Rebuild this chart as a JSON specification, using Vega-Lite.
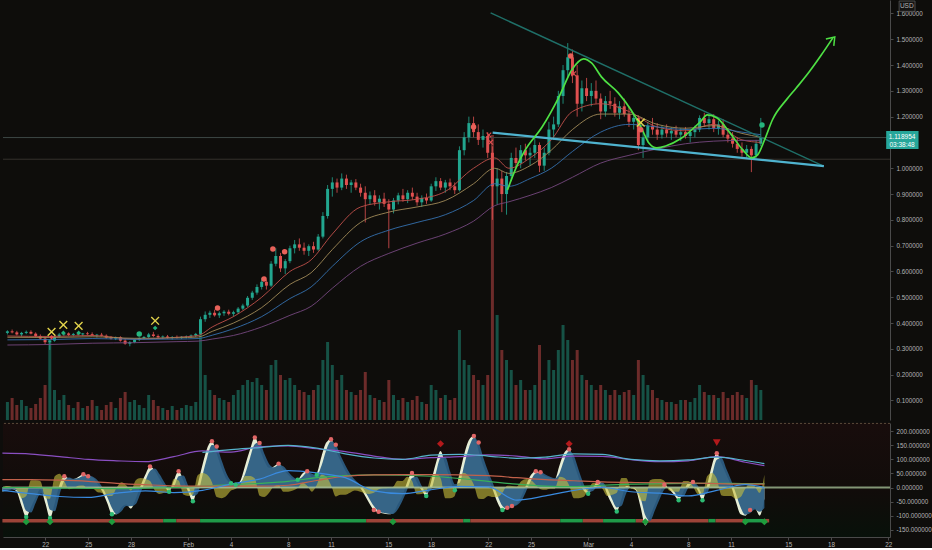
{
"$schema":"https://vega.github.io/schema/vega-lite/v6.json",
"background":"#0e0d0b",
"padding":0,
"spacing":2,
"config":{"view":{"stroke":null},"font":"Liberation Sans","axis":{"grid":false,"domainColor":"#4a4a4a","tickColor":"#4a4a4a","labelColor":"#b4b4b4","labelFont":"Liberation Sans","labelFontSize":6.3,"tickSize":3,"labelPadding":3,"labelOverlap":false}},
"datasets":{
"k":[
{"t":"2021-01-19T00:00Z","o":0.362,"h":0.372,"l":0.356,"c":0.368,"v":18,"w1":-15,"w2":-15,"mf":0},
{"t":"2021-01-19T08:00Z","o":0.368,"h":0.375,"l":0.36,"c":0.364,"v":22,"w1":-8,"w2":-12,"mf":5},
{"t":"2021-01-19T16:00Z","o":0.364,"h":0.37,"l":0.352,"c":0.356,"v":15,"w1":-5,"w2":-7,"mf":2},
{"t":"2021-01-20T00:00Z","o":0.356,"h":0.366,"l":0.348,"c":0.362,"v":20,"w1":-15,"w2":-10,"mf":-8},
{"t":"2021-01-20T08:00Z","o":0.362,"h":0.371,"l":0.357,"c":0.366,"v":14,"w1":-65,"w2":-38,"mf":-38},
{"t":"2021-01-20T16:00Z","o":0.366,"h":0.372,"l":0.356,"c":0.359,"v":12,"w1":-105,"w2":-83,"mf":-30},
{"t":"2021-01-21T00:00Z","o":0.359,"h":0.364,"l":0.345,"c":0.35,"v":16,"w1":-70,"w2":-89,"mf":26},
{"t":"2021-01-21T08:00Z","o":0.35,"h":0.356,"l":0.336,"c":0.34,"v":22,"w1":-35,"w2":-54,"mf":26},
{"t":"2021-01-21T16:00Z","o":0.34,"h":0.346,"l":0.318,"c":0.326,"v":35,"w1":-6,"w2":-22,"mf":22},
{"t":"2021-01-22T00:00Z","o":0.326,"h":0.338,"l":0.296,"c":0.332,"v":80,"w1":-55,"w2":-28,"mf":-37},
{"t":"2021-01-22T08:00Z","o":0.332,"h":0.352,"l":0.328,"c":0.348,"v":30,"w1":-108,"w2":-79,"mf":-40},
{"t":"2021-01-22T16:00Z","o":0.348,"h":0.362,"l":0.344,"c":0.356,"v":20,"w1":-55,"w2":-84,"mf":40},
{"t":"2021-01-23T00:00Z","o":0.356,"h":0.366,"l":0.35,"c":0.36,"v":25,"w1":10,"w2":-26,"mf":49},
{"t":"2021-01-23T08:00Z","o":0.36,"h":0.364,"l":0.35,"c":0.354,"v":15,"w1":40,"w2":24,"mf":22},
{"t":"2021-01-23T16:00Z","o":0.354,"h":0.362,"l":0.349,"c":0.358,"v":12,"w1":32,"w2":36,"mf":-6},
{"t":"2021-01-24T00:00Z","o":0.358,"h":0.365,"l":0.352,"c":0.356,"v":18,"w1":30,"w2":31,"mf":-2},
{"t":"2021-01-24T08:00Z","o":0.356,"h":0.362,"l":0.35,"c":0.36,"v":12,"w1":38,"w2":34,"mf":6},
{"t":"2021-01-24T16:00Z","o":0.36,"h":0.366,"l":0.354,"c":0.357,"v":14,"w1":47,"w2":42,"mf":7},
{"t":"2021-01-25T00:00Z","o":0.357,"h":0.364,"l":0.35,"c":0.352,"v":20,"w1":40,"w2":44,"mf":-5},
{"t":"2021-01-25T08:00Z","o":0.352,"h":0.358,"l":0.344,"c":0.355,"v":14,"w1":35,"w2":38,"mf":-4},
{"t":"2021-01-25T16:00Z","o":0.355,"h":0.362,"l":0.349,"c":0.351,"v":10,"w1":12,"w2":25,"mf":-17},
{"t":"2021-01-26T00:00Z","o":0.351,"h":0.356,"l":0.34,"c":0.344,"v":15,"w1":-15,"w2":0,"mf":-20},
{"t":"2021-01-26T08:00Z","o":0.344,"h":0.35,"l":0.336,"c":0.34,"v":18,"w1":-55,"w2":-33,"mf":-30},
{"t":"2021-01-26T16:00Z","o":0.34,"h":0.348,"l":0.334,"c":0.345,"v":12,"w1":-95,"w2":-73,"mf":-30},
{"t":"2021-01-27T00:00Z","o":0.345,"h":0.349,"l":0.328,"c":0.332,"v":22,"w1":-95,"w2":-95,"mf":0},
{"t":"2021-01-27T08:00Z","o":0.332,"h":0.338,"l":0.316,"c":0.32,"v":28,"w1":-70,"w2":-84,"mf":19},
{"t":"2021-01-27T16:00Z","o":0.32,"h":0.33,"l":0.31,"c":0.326,"v":18,"w1":-60,"w2":-66,"mf":8},
{"t":"2021-01-28T00:00Z","o":0.326,"h":0.34,"l":0.322,"c":0.336,"v":20,"w1":-75,"w2":-67,"mf":-11},
{"t":"2021-01-28T08:00Z","o":0.336,"h":0.345,"l":0.33,"c":0.342,"v":15,"w1":-40,"w2":-59,"mf":26},
{"t":"2021-01-28T16:00Z","o":0.342,"h":0.35,"l":0.337,"c":0.346,"v":12,"w1":5,"w2":-20,"mf":34},
{"t":"2021-01-29T00:00Z","o":0.346,"h":0.362,"l":0.342,"c":0.356,"v":25,"w1":45,"w2":23,"mf":30},
{"t":"2021-01-29T08:00Z","o":0.356,"h":0.366,"l":0.345,"c":0.35,"v":20,"w1":75,"w2":59,"mf":23},
{"t":"2021-01-29T16:00Z","o":0.35,"h":0.356,"l":0.34,"c":0.345,"v":14,"w1":60,"w2":68,"mf":-11},
{"t":"2021-01-30T00:00Z","o":0.345,"h":0.352,"l":0.338,"c":0.348,"v":12,"w1":30,"w2":47,"mf":-23},
{"t":"2021-01-30T08:00Z","o":0.348,"h":0.354,"l":0.34,"c":0.343,"v":10,"w1":5,"w2":19,"mf":-19},
{"t":"2021-01-30T16:00Z","o":0.343,"h":0.35,"l":0.336,"c":0.346,"v":14,"w1":-15,"w2":-4,"mf":-15},
{"t":"2021-01-31T00:00Z","o":0.346,"h":0.352,"l":0.34,"c":0.344,"v":10,"w1":25,"w2":3,"mf":30},
{"t":"2021-01-31T08:00Z","o":0.344,"h":0.35,"l":0.338,"c":0.347,"v":12,"w1":58,"w2":40,"mf":25},
{"t":"2021-01-31T16:00Z","o":0.347,"h":0.352,"l":0.341,"c":0.349,"v":15,"w1":25,"w2":43,"mf":-25},
{"t":"2021-02-01T00:00Z","o":0.349,"h":0.356,"l":0.343,"c":0.352,"v":14,"w1":-15,"w2":7,"mf":-30},
{"t":"2021-02-01T08:00Z","o":0.352,"h":0.362,"l":0.346,"c":0.358,"v":18,"w1":-49,"w2":-30,"mf":-26},
{"t":"2021-02-01T16:00Z","o":0.358,"h":0.425,"l":0.355,"c":0.415,"v":88,"w1":10,"w2":-22,"mf":44},
{"t":"2021-02-02T00:00Z","o":0.415,"h":0.445,"l":0.405,"c":0.432,"v":45,"w1":80,"w2":42,"mf":52},
{"t":"2021-02-02T08:00Z","o":0.432,"h":0.448,"l":0.42,"c":0.44,"v":30,"w1":140,"w2":107,"mf":45},
{"t":"2021-02-02T16:00Z","o":0.44,"h":0.452,"l":0.425,"c":0.43,"v":25,"w1":165,"w2":151,"mf":19},
{"t":"2021-02-03T00:00Z","o":0.43,"h":0.445,"l":0.42,"c":0.438,"v":22,"w1":120,"w2":145,"mf":-34},
{"t":"2021-02-03T08:00Z","o":0.438,"h":0.45,"l":0.428,"c":0.444,"v":20,"w1":70,"w2":98,"mf":-38},
{"t":"2021-02-03T16:00Z","o":0.444,"h":0.452,"l":0.43,"c":0.436,"v":18,"w1":30,"w2":52,"mf":-30},
{"t":"2021-02-04T00:00Z","o":0.436,"h":0.448,"l":0.425,"c":0.442,"v":25,"w1":15,"w2":23,"mf":-11},
{"t":"2021-02-04T08:00Z","o":0.442,"h":0.462,"l":0.435,"c":0.456,"v":30,"w1":10,"w2":13,"mf":-4},
{"t":"2021-02-04T16:00Z","o":0.456,"h":0.475,"l":0.45,"c":0.468,"v":35,"w1":25,"w2":17,"mf":11},
{"t":"2021-02-05T00:00Z","o":0.468,"h":0.505,"l":0.462,"c":0.498,"v":40,"w1":80,"w2":50,"mf":41},
{"t":"2021-02-05T08:00Z","o":0.498,"h":0.525,"l":0.49,"c":0.518,"v":38,"w1":135,"w2":105,"mf":41},
{"t":"2021-02-05T16:00Z","o":0.518,"h":0.55,"l":0.51,"c":0.54,"v":42,"w1":178,"w2":154,"mf":32},
{"t":"2021-02-06T00:00Z","o":0.54,"h":0.575,"l":0.53,"c":0.56,"v":35,"w1":140,"w2":161,"mf":-29},
{"t":"2021-02-06T08:00Z","o":0.56,"h":0.568,"l":0.53,"c":0.545,"v":30,"w1":95,"w2":120,"mf":-34},
{"t":"2021-02-06T16:00Z","o":0.545,"h":0.64,"l":0.54,"c":0.63,"v":55,"w1":70,"w2":84,"mf":-19},
{"t":"2021-02-07T00:00Z","o":0.63,"h":0.69,"l":0.62,"c":0.66,"v":60,"w1":75,"w2":72,"mf":4},
{"t":"2021-02-07T08:00Z","o":0.66,"h":0.672,"l":0.598,"c":0.612,"v":45,"w1":85,"w2":80,"mf":8},
{"t":"2021-02-07T16:00Z","o":0.612,"h":0.648,"l":0.59,"c":0.64,"v":40,"w1":65,"w2":76,"mf":-15},
{"t":"2021-02-08T00:00Z","o":0.64,"h":0.7,"l":0.632,"c":0.69,"v":42,"w1":45,"w2":56,"mf":-15},
{"t":"2021-02-08T08:00Z","o":0.69,"h":0.722,"l":0.67,"c":0.705,"v":35,"w1":30,"w2":38,"mf":-11},
{"t":"2021-02-08T16:00Z","o":0.705,"h":0.728,"l":0.68,"c":0.692,"v":30,"w1":28,"w2":29,"mf":-2},
{"t":"2021-02-09T00:00Z","o":0.692,"h":0.712,"l":0.665,"c":0.68,"v":28,"w1":50,"w2":38,"mf":17},
{"t":"2021-02-09T08:00Z","o":0.68,"h":0.705,"l":0.66,"c":0.698,"v":25,"w1":58,"w2":54,"mf":6},
{"t":"2021-02-09T16:00Z","o":0.698,"h":0.715,"l":0.672,"c":0.685,"v":30,"w1":38,"w2":49,"mf":-15},
{"t":"2021-02-10T00:00Z","o":0.685,"h":0.745,"l":0.68,"c":0.735,"v":35,"w1":50,"w2":43,"mf":9},
{"t":"2021-02-10T08:00Z","o":0.735,"h":0.83,"l":0.728,"c":0.815,"v":60,"w1":110,"w2":77,"mf":45},
{"t":"2021-02-10T16:00Z","o":0.815,"h":0.935,"l":0.805,"c":0.92,"v":78,"w1":160,"w2":133,"mf":38},
{"t":"2021-02-11T00:00Z","o":0.92,"h":0.965,"l":0.89,"c":0.945,"v":55,"w1":172,"w2":165,"mf":9},
{"t":"2021-02-11T08:00Z","o":0.945,"h":0.96,"l":0.905,"c":0.925,"v":40,"w1":130,"w2":153,"mf":-32},
{"t":"2021-02-11T16:00Z","o":0.925,"h":0.98,"l":0.915,"c":0.96,"v":45,"w1":95,"w2":114,"mf":-26},
{"t":"2021-02-12T00:00Z","o":0.96,"h":0.975,"l":0.92,"c":0.935,"v":30,"w1":60,"w2":79,"mf":-26},
{"t":"2021-02-12T08:00Z","o":0.935,"h":0.955,"l":0.905,"c":0.945,"v":28,"w1":35,"w2":49,"mf":-19},
{"t":"2021-02-12T16:00Z","o":0.945,"h":0.958,"l":0.915,"c":0.925,"v":25,"w1":20,"w2":28,"mf":-11},
{"t":"2021-02-13T00:00Z","o":0.925,"h":0.94,"l":0.89,"c":0.905,"v":30,"w1":2,"w2":12,"mf":-14},
{"t":"2021-02-13T08:00Z","o":0.905,"h":0.93,"l":0.79,"c":0.88,"v":48,"w1":-25,"w2":-10,"mf":-20},
{"t":"2021-02-13T16:00Z","o":0.88,"h":0.91,"l":0.86,"c":0.895,"v":25,"w1":-55,"w2":-39,"mf":-23},
{"t":"2021-02-14T00:00Z","o":0.895,"h":0.915,"l":0.855,"c":0.868,"v":22,"w1":-80,"w2":-66,"mf":-19},
{"t":"2021-02-14T08:00Z","o":0.868,"h":0.895,"l":0.84,"c":0.882,"v":20,"w1":-88,"w2":-84,"mf":-6},
{"t":"2021-02-14T16:00Z","o":0.882,"h":0.905,"l":0.85,"c":0.862,"v":18,"w1":-92,"w2":-90,"mf":-3},
{"t":"2021-02-15T00:00Z","o":0.862,"h":0.88,"l":0.69,"c":0.84,"v":40,"w1":-95,"w2":-93,"mf":-2},
{"t":"2021-02-15T08:00Z","o":0.84,"h":0.885,"l":0.825,"c":0.875,"v":25,"w1":-92,"w2":-94,"mf":2},
{"t":"2021-02-15T16:00Z","o":0.875,"h":0.905,"l":0.86,"c":0.895,"v":20,"w1":-60,"w2":-78,"mf":24},
{"t":"2021-02-16T00:00Z","o":0.895,"h":0.92,"l":0.87,"c":0.88,"v":22,"w1":-30,"w2":-47,"mf":23},
{"t":"2021-02-16T08:00Z","o":0.88,"h":0.915,"l":0.865,"c":0.905,"v":18,"w1":20,"w2":-8,"mf":38},
{"t":"2021-02-16T16:00Z","o":0.905,"h":0.925,"l":0.878,"c":0.89,"v":20,"w1":52,"w2":34,"mf":24},
{"t":"2021-02-17T00:00Z","o":0.89,"h":0.905,"l":0.855,"c":0.868,"v":24,"w1":20,"w2":38,"mf":-24},
{"t":"2021-02-17T08:00Z","o":0.868,"h":0.895,"l":0.85,"c":0.885,"v":18,"w1":-10,"w2":7,"mf":-23},
{"t":"2021-02-17T16:00Z","o":0.885,"h":0.902,"l":0.862,"c":0.875,"v":16,"w1":-30,"w2":-19,"mf":-15},
{"t":"2021-02-18T00:00Z","o":0.875,"h":0.94,"l":0.87,"c":0.93,"v":35,"w1":20,"w2":-8,"mf":38},
{"t":"2021-02-18T08:00Z","o":0.93,"h":0.965,"l":0.912,"c":0.95,"v":30,"w1":85,"w2":49,"mf":49},
{"t":"2021-02-18T16:00Z","o":0.95,"h":0.962,"l":0.915,"c":0.925,"v":22,"w1":130,"w2":105,"mf":34},
{"t":"2021-02-19T00:00Z","o":0.925,"h":0.955,"l":0.905,"c":0.945,"v":25,"w1":80,"w2":108,"mf":-38},
{"t":"2021-02-19T08:00Z","o":0.945,"h":0.96,"l":0.915,"c":0.93,"v":20,"w1":30,"w2":58,"mf":-38},
{"t":"2021-02-19T16:00Z","o":0.93,"h":0.945,"l":0.9,"c":0.915,"v":22,"w1":-10,"w2":12,"mf":-30},
{"t":"2021-02-20T00:00Z","o":0.915,"h":1.085,"l":0.91,"c":1.07,"v":90,"w1":50,"w2":17,"mf":45},
{"t":"2021-02-20T08:00Z","o":1.07,"h":1.14,"l":1.05,"c":1.12,"v":60,"w1":120,"w2":82,"mf":52},
{"t":"2021-02-20T16:00Z","o":1.12,"h":1.2,"l":1.1,"c":1.175,"v":55,"w1":170,"w2":143,"mf":38},
{"t":"2021-02-21T00:00Z","o":1.175,"h":1.2,"l":1.12,"c":1.14,"v":45,"w1":183,"w2":176,"mf":10},
{"t":"2021-02-21T08:00Z","o":1.14,"h":1.17,"l":1.09,"c":1.11,"v":40,"w1":130,"w2":159,"mf":-40},
{"t":"2021-02-21T16:00Z","o":1.11,"h":1.15,"l":1.08,"c":1.125,"v":35,"w1":75,"w2":105,"mf":-41},
{"t":"2021-02-22T00:00Z","o":1.125,"h":1.14,"l":1.04,"c":1.06,"v":45,"w1":35,"w2":57,"mf":-30},
{"t":"2021-02-22T08:00Z","o":1.06,"h":1.085,"l":0.8,"c":0.93,"v":285,"w1":-10,"w2":15,"mf":-34},
{"t":"2021-02-22T16:00Z","o":0.93,"h":1.0,"l":0.86,"c":0.96,"v":105,"w1":-55,"w2":-30,"mf":-34},
{"t":"2021-02-23T00:00Z","o":0.96,"h":0.99,"l":0.83,"c":0.9,"v":70,"w1":-80,"w2":-66,"mf":-19},
{"t":"2021-02-23T08:00Z","o":0.9,"h":0.985,"l":0.82,"c":0.97,"v":60,"w1":-72,"w2":-76,"mf":6},
{"t":"2021-02-23T16:00Z","o":0.97,"h":1.06,"l":0.95,"c":1.04,"v":50,"w1":-65,"w2":-69,"mf":5},
{"t":"2021-02-24T00:00Z","o":1.04,"h":1.08,"l":1.0,"c":1.02,"v":35,"w1":-60,"w2":-63,"mf":4},
{"t":"2021-02-24T08:00Z","o":1.02,"h":1.09,"l":1.0,"c":1.07,"v":40,"w1":-30,"w2":-47,"mf":23},
{"t":"2021-02-24T16:00Z","o":1.07,"h":1.095,"l":1.03,"c":1.05,"v":30,"w1":10,"w2":-12,"mf":30},
{"t":"2021-02-25T00:00Z","o":1.05,"h":1.08,"l":1.01,"c":1.06,"v":30,"w1":45,"w2":26,"mf":26},
{"t":"2021-02-25T08:00Z","o":1.06,"h":1.12,"l":1.04,"c":1.09,"v":35,"w1":58,"w2":51,"mf":10},
{"t":"2021-02-25T16:00Z","o":1.09,"h":1.1,"l":0.985,"c":1.01,"v":75,"w1":50,"w2":54,"mf":-6},
{"t":"2021-02-26T00:00Z","o":1.01,"h":1.08,"l":0.99,"c":1.06,"v":40,"w1":40,"w2":46,"mf":-8},
{"t":"2021-02-26T08:00Z","o":1.06,"h":1.18,"l":1.05,"c":1.15,"v":60,"w1":35,"w2":38,"mf":-4},
{"t":"2021-02-26T16:00Z","o":1.15,"h":1.2,"l":1.11,"c":1.17,"v":50,"w1":30,"w2":33,"mf":-4},
{"t":"2021-02-27T00:00Z","o":1.17,"h":1.3,"l":1.16,"c":1.28,"v":70,"w1":80,"w2":52,"mf":38},
{"t":"2021-02-27T08:00Z","o":1.28,"h":1.4,"l":1.25,"c":1.38,"v":95,"w1":125,"w2":100,"mf":34},
{"t":"2021-02-27T16:00Z","o":1.38,"h":1.485,"l":1.35,"c":1.43,"v":80,"w1":136,"w2":130,"mf":8},
{"t":"2021-02-28T00:00Z","o":1.43,"h":1.46,"l":1.33,"c":1.36,"v":60,"w1":85,"w2":113,"mf":-38},
{"t":"2021-02-28T08:00Z","o":1.36,"h":1.4,"l":1.2,"c":1.25,"v":70,"w1":35,"w2":62,"mf":-38},
{"t":"2021-02-28T16:00Z","o":1.25,"h":1.34,"l":1.22,"c":1.31,"v":45,"w1":-10,"w2":15,"mf":-34},
{"t":"2021-03-01T00:00Z","o":1.31,"h":1.35,"l":1.26,"c":1.28,"v":40,"w1":-22,"w2":-15,"mf":-9},
{"t":"2021-03-01T08:00Z","o":1.28,"h":1.33,"l":1.24,"c":1.3,"v":35,"w1":0,"w2":-12,"mf":16},
{"t":"2021-03-01T16:00Z","o":1.3,"h":1.34,"l":1.25,"c":1.27,"v":30,"w1":20,"w2":9,"mf":15},
{"t":"2021-03-02T00:00Z","o":1.27,"h":1.29,"l":1.19,"c":1.22,"v":35,"w1":15,"w2":18,"mf":-4},
{"t":"2021-03-02T08:00Z","o":1.22,"h":1.28,"l":1.2,"c":1.26,"v":30,"w1":-25,"w2":-3,"mf":-30},
{"t":"2021-03-02T16:00Z","o":1.26,"h":1.3,"l":1.23,"c":1.25,"v":25,"w1":-60,"w2":-41,"mf":-26},
{"t":"2021-03-03T00:00Z","o":1.25,"h":1.275,"l":1.2,"c":1.215,"v":30,"w1":-85,"w2":-71,"mf":-19},
{"t":"2021-03-03T08:00Z","o":1.215,"h":1.26,"l":1.19,"c":1.24,"v":25,"w1":-40,"w2":-65,"mf":34},
{"t":"2021-03-03T16:00Z","o":1.24,"h":1.27,"l":1.2,"c":1.21,"v":28,"w1":5,"w2":-20,"mf":34},
{"t":"2021-03-04T00:00Z","o":1.21,"h":1.24,"l":1.16,"c":1.18,"v":30,"w1":0,"w2":3,"mf":-4},
{"t":"2021-03-04T08:00Z","o":1.18,"h":1.215,"l":1.15,"c":1.195,"v":25,"w1":-10,"w2":-5,"mf":-8},
{"t":"2021-03-04T16:00Z","o":1.195,"h":1.205,"l":1.07,"c":1.09,"v":60,"w1":-70,"w2":-37,"mf":-45},
{"t":"2021-03-05T00:00Z","o":1.09,"h":1.14,"l":1.04,"c":1.12,"v":45,"w1":-135,"w2":-99,"mf":-49},
{"t":"2021-03-05T08:00Z","o":1.12,"h":1.18,"l":1.1,"c":1.165,"v":35,"w1":-100,"w2":-119,"mf":26},
{"t":"2021-03-05T16:00Z","o":1.165,"h":1.195,"l":1.13,"c":1.15,"v":30,"w1":-60,"w2":-82,"mf":30},
{"t":"2021-03-06T00:00Z","o":1.15,"h":1.175,"l":1.11,"c":1.13,"v":22,"w1":-20,"w2":-42,"mf":30},
{"t":"2021-03-06T08:00Z","o":1.13,"h":1.165,"l":1.115,"c":1.15,"v":20,"w1":10,"w2":-7,"mf":23},
{"t":"2021-03-06T16:00Z","o":1.15,"h":1.17,"l":1.12,"c":1.135,"v":18,"w1":-5,"w2":3,"mf":-11},
{"t":"2021-03-07T00:00Z","o":1.135,"h":1.16,"l":1.11,"c":1.145,"v":18,"w1":-25,"w2":-14,"mf":-15},
{"t":"2021-03-07T08:00Z","o":1.145,"h":1.165,"l":1.12,"c":1.13,"v":16,"w1":-45,"w2":-34,"mf":-15},
{"t":"2021-03-07T16:00Z","o":1.13,"h":1.155,"l":1.105,"c":1.14,"v":20,"w1":-15,"w2":-32,"mf":23},
{"t":"2021-03-08T00:00Z","o":1.14,"h":1.16,"l":1.115,"c":1.125,"v":20,"w1":15,"w2":-2,"mf":23},
{"t":"2021-03-08T08:00Z","o":1.125,"h":1.15,"l":1.1,"c":1.14,"v":18,"w1":20,"w2":17,"mf":4},
{"t":"2021-03-08T16:00Z","o":1.14,"h":1.165,"l":1.12,"c":1.15,"v":22,"w1":-10,"w2":7,"mf":-23},
{"t":"2021-03-09T00:00Z","o":1.15,"h":1.205,"l":1.14,"c":1.195,"v":35,"w1":-45,"w2":-26,"mf":-26},
{"t":"2021-03-09T08:00Z","o":1.195,"h":1.215,"l":1.16,"c":1.175,"v":28,"w1":10,"w2":-20,"mf":41},
{"t":"2021-03-09T16:00Z","o":1.175,"h":1.205,"l":1.15,"c":1.19,"v":25,"w1":80,"w2":42,"mf":52},
{"t":"2021-03-10T00:00Z","o":1.19,"h":1.21,"l":1.14,"c":1.155,"v":25,"w1":122,"w2":99,"mf":32},
{"t":"2021-03-10T08:00Z","o":1.155,"h":1.185,"l":1.13,"c":1.17,"v":22,"w1":85,"w2":105,"mf":-28},
{"t":"2021-03-10T16:00Z","o":1.17,"h":1.19,"l":1.12,"c":1.13,"v":28,"w1":45,"w2":67,"mf":-30},
{"t":"2021-03-11T00:00Z","o":1.13,"h":1.155,"l":1.1,"c":1.115,"v":22,"w1":5,"w2":27,"mf":-30},
{"t":"2021-03-11T08:00Z","o":1.115,"h":1.14,"l":1.08,"c":1.095,"v":25,"w1":-50,"w2":-20,"mf":-41},
{"t":"2021-03-11T16:00Z","o":1.095,"h":1.12,"l":1.06,"c":1.075,"v":28,"w1":-95,"w2":-70,"mf":-34},
{"t":"2021-03-12T00:00Z","o":1.075,"h":1.1,"l":1.045,"c":1.06,"v":25,"w1":-100,"w2":-97,"mf":-4},
{"t":"2021-03-12T08:00Z","o":1.06,"h":1.09,"l":1.04,"c":1.075,"v":22,"w1":-80,"w2":-91,"mf":15},
{"t":"2021-03-12T16:00Z","o":1.075,"h":1.085,"l":0.985,"c":1.05,"v":40,"w1":-75,"w2":-78,"mf":4},
{"t":"2021-03-13T00:00Z","o":1.05,"h":1.11,"l":1.04,"c":1.095,"v":35,"w1":-100,"w2":-86,"mf":-19},
{"t":"2021-03-13T08:00Z","o":1.095,"h":1.195,"l":1.085,"c":1.119,"v":30,"w1":-40,"w2":-73,"mf":45}
],
"ma":[
{"t":"2021-01-19T00:00Z","a":0.35,"b":0.345,"c":0.335,"d":0.315},
{"t":"2021-01-22T00:00Z","a":0.348,"b":0.344,"c":0.336,"d":0.317},
{"t":"2021-01-25T00:00Z","a":0.352,"b":0.347,"c":0.34,"d":0.322},
{"t":"2021-01-28T00:00Z","a":0.338,"b":0.341,"c":0.337,"d":0.324},
{"t":"2021-01-31T00:00Z","a":0.345,"b":0.343,"c":0.338,"d":0.328},
{"t":"2021-02-01T12:00Z","a":0.352,"b":0.346,"c":0.34,"d":0.33},
{"t":"2021-02-02T12:00Z","a":0.385,"b":0.368,"c":0.353,"d":0.338},
{"t":"2021-02-04T00:00Z","a":0.425,"b":0.4,"c":0.378,"d":0.352},
{"t":"2021-02-06T00:00Z","a":0.5,"b":0.46,"c":0.425,"d":0.385},
{"t":"2021-02-08T00:00Z","a":0.6,"b":0.55,"c":0.495,"d":0.43},
{"t":"2021-02-09T12:00Z","a":0.645,"b":0.595,"c":0.54,"d":0.465},
{"t":"2021-02-11T00:00Z","a":0.745,"b":0.685,"c":0.62,"d":0.535},
{"t":"2021-02-13T00:00Z","a":0.85,"b":0.79,"c":0.715,"d":0.62},
{"t":"2021-02-15T00:00Z","a":0.87,"b":0.83,"c":0.76,"d":0.67},
{"t":"2021-02-17T00:00Z","a":0.88,"b":0.85,"c":0.79,"d":0.71},
{"t":"2021-02-19T00:00Z","a":0.91,"b":0.875,"c":0.82,"d":0.745},
{"t":"2021-02-21T00:00Z","a":1.0,"b":0.94,"c":0.875,"d":0.795},
{"t":"2021-02-22T12:00Z","a":1.04,"b":1.0,"c":0.94,"d":0.855},
{"t":"2021-02-23T12:00Z","a":1.0,"b":0.98,"c":0.93,"d":0.87},
{"t":"2021-02-25T00:00Z","a":1.04,"b":1.01,"c":0.96,"d":0.895},
{"t":"2021-02-26T12:00Z","a":1.11,"b":1.07,"c":1.0,"d":0.925},
{"t":"2021-02-28T00:00Z","a":1.22,"b":1.15,"c":1.065,"d":0.965},
{"t":"2021-03-02T00:00Z","a":1.25,"b":1.21,"c":1.14,"d":1.02},
{"t":"2021-03-04T00:00Z","a":1.22,"b":1.21,"c":1.17,"d":1.05},
{"t":"2021-03-06T00:00Z","a":1.16,"b":1.17,"c":1.16,"d":1.075},
{"t":"2021-03-08T00:00Z","a":1.145,"b":1.155,"c":1.15,"d":1.095},
{"t":"2021-03-10T00:00Z","a":1.17,"b":1.165,"c":1.155,"d":1.105},
{"t":"2021-03-12T00:00Z","a":1.11,"b":1.135,"c":1.14,"d":1.108},
{"t":"2021-03-13T08:00Z","a":1.1,"b":1.12,"c":1.13,"d":1.108}
],
"tl":[
{"g":"u","t":"2021-02-22T05:00Z","p":1.602},{"g":"u","t":"2021-03-17T15:50Z","p":1.011},
{"g":"l","t":"2021-02-22T08:24Z","p":1.138},{"g":"l","t":"2021-03-17T19:12Z","p":1.008}
],
"gc":[
{"t":"2021-02-23T09:36Z","p":0.916},{"t":"2021-02-24T02:24Z","p":1.013},{"t":"2021-02-24T15:50Z","p":1.071},{"t":"2021-02-25T20:24Z","p":1.16},{"t":"2021-02-27T01:00Z","p":1.276},{"t":"2021-02-27T22:48Z","p":1.381},{"t":"2021-02-28T19:00Z","p":1.424},{"t":"2021-03-01T08:24Z","p":1.408},{"t":"2021-03-02T01:12Z","p":1.354},{"t":"2021-03-03T05:45Z","p":1.292},{"t":"2021-03-04T03:36Z","p":1.226},{"t":"2021-03-04T20:24Z","p":1.16},{"t":"2021-03-05T09:50Z","p":1.098},{"t":"2021-03-05T23:17Z","p":1.079},{"t":"2021-03-06T14:24Z","p":1.086},{"t":"2021-03-07T15:36Z","p":1.114},{"t":"2021-03-09T01:12Z","p":1.18},{"t":"2021-03-09T13:00Z","p":1.207},{"t":"2021-03-10T05:45Z","p":1.195},{"t":"2021-03-11T03:36Z","p":1.137},{"t":"2021-03-12T01:26Z","p":1.071},{"t":"2021-03-12T16:34Z","p":1.04},{"t":"2021-03-13T02:38Z","p":1.052},{"t":"2021-03-13T14:24Z","p":1.11},{"t":"2021-03-14T03:50Z","p":1.188},{"t":"2021-03-15T03:22Z","p":1.265},{"t":"2021-03-15T20:10Z","p":1.311},{"t":"2021-03-16T18:00Z","p":1.373},{"t":"2021-03-17T14:10Z","p":1.437},{"t":"2021-03-18T10:19Z","p":1.505}
],
"ar":[
{"i":0,"t":"2021-03-17T22:34Z","p":1.501},{"i":1,"t":"2021-03-18T13:40Z","p":1.509},{"i":2,"t":"2021-03-18T12:00Z","p":1.474}
],
"pm":[
{"t":"2021-01-22T03:00Z","p":0.366,"k":"yx"},{"t":"2021-01-22T23:00Z","p":0.393,"k":"yx"},{"t":"2021-01-24T01:00Z","p":0.389,"k":"yx"},{"t":"2021-01-29T11:00Z","p":0.409,"k":"yx"},{"t":"2021-03-04T20:00Z","p":1.177,"k":"yx"},
{"t":"2021-01-22T23:00Z","p":0.362,"k":"gm"},{"t":"2021-01-24T01:00Z","p":0.362,"k":"gm"},{"t":"2021-01-29T11:00Z","p":0.381,"k":"gm"},
{"t":"2021-01-22T03:00Z","p":0.345,"k":"rm"},
{"t":"2021-01-28T08:00Z","p":0.358,"k":"go"},{"t":"2021-03-13T10:00Z","p":1.168,"k":"go"},
{"t":"2021-02-02T21:00Z","p":0.458,"k":"ro"},{"t":"2021-02-06T04:00Z","p":0.571,"k":"ro"},{"t":"2021-02-06T19:00Z","p":0.687,"k":"ro"},{"t":"2021-02-07T15:00Z","p":0.676,"k":"ro"},{"t":"2021-02-21T00:00Z","p":1.16,"k":"ro"},{"t":"2021-02-27T21:00Z","p":1.435,"k":"ro"},{"t":"2021-03-04T20:00Z","p":1.149,"k":"ro"},
{"t":"2021-02-22T02:00Z","p":1.129,"k":"rx"},{"t":"2021-02-22T05:00Z","p":1.101,"k":"rx"},{"t":"2021-02-28T02:00Z","p":1.366,"k":"rx"}
],
"s":[
{"t":"2021-01-19T00:00Z","p":122,"q":null,"b":-10,"g":0,"o":28},
{"t":"2021-01-21T00:00Z","p":119,"q":null,"b":-22,"g":0,"o":28},
{"t":"2021-01-23T00:00Z","p":110,"q":null,"b":-32,"g":-2,"o":26},
{"t":"2021-01-25T00:00Z","p":100,"q":null,"b":-35,"g":-3,"o":22},
{"t":"2021-01-27T00:00Z","p":95,"q":null,"b":-20,"g":-4,"o":15},
{"t":"2021-01-29T00:00Z","p":92,"q":null,"b":-12,"g":-2,"o":10},
{"t":"2021-01-31T00:00Z","p":110,"q":null,"b":-18,"g":0,"o":6},
{"t":"2021-02-02T00:00Z","p":130,"q":125,"b":-10,"g":5,"o":5},
{"t":"2021-02-04T00:00Z","p":126,"q":135,"b":12,"g":10,"o":5},
{"t":"2021-02-06T00:00Z","p":145,"q":142,"b":30,"g":15,"o":5},
{"t":"2021-02-08T00:00Z","p":148,"q":150,"b":60,"g":22,"o":8},
{"t":"2021-02-10T00:00Z","p":138,"q":140,"b":52,"g":35,"o":25},
{"t":"2021-02-12T00:00Z","p":128,"q":120,"b":35,"g":42,"o":40},
{"t":"2021-02-14T00:00Z","p":112,"q":105,"b":-12,"g":45,"o":45},
{"t":"2021-02-16T00:00Z","p":100,"q":100,"b":-22,"g":44,"o":46},
{"t":"2021-02-18T00:00Z","p":106,"q":115,"b":-8,"g":40,"o":46},
{"t":"2021-02-20T00:00Z","p":110,"q":118,"b":4,"g":32,"o":45},
{"t":"2021-02-22T00:00Z","p":116,"q":112,"b":2,"g":22,"o":42},
{"t":"2021-02-24T00:00Z","p":112,"q":104,"b":-45,"g":12,"o":35},
{"t":"2021-02-26T00:00Z","p":102,"q":108,"b":-30,"g":5,"o":28},
{"t":"2021-02-28T00:00Z","p":112,"q":120,"b":-10,"g":3,"o":24},
{"t":"2021-03-02T00:00Z","p":111,"q":118,"b":0,"g":8,"o":20},
{"t":"2021-03-04T00:00Z","p":99,"q":100,"b":-15,"g":12,"o":18},
{"t":"2021-03-06T00:00Z","p":92,"q":95,"b":-20,"g":14,"o":17},
{"t":"2021-03-08T00:00Z","p":95,"q":98,"b":-30,"g":15,"o":16},
{"t":"2021-03-10T00:00Z","p":110,"q":108,"b":-10,"g":15,"o":14},
{"t":"2021-03-12T00:00Z","p":90,"q":96,"b":10,"g":14,"o":12},
{"t":"2021-03-13T08:00Z","p":78,"q":85,"b":0,"g":14,"o":12}
],
"bs":[
{"s":"2021-01-19T00:00Z","e":"2021-01-30T06:00Z","c":"r"},
{"s":"2021-01-30T06:00Z","e":"2021-01-31T04:00Z","c":"g"},
{"s":"2021-01-31T04:00Z","e":"2021-02-01T20:00Z","c":"r"},
{"s":"2021-02-01T20:00Z","e":"2021-02-13T11:00Z","c":"g"},
{"s":"2021-02-13T11:00Z","e":"2021-02-20T06:00Z","c":"r"},
{"s":"2021-02-20T06:00Z","e":"2021-02-20T18:00Z","c":"g"},
{"s":"2021-02-20T18:00Z","e":"2021-02-27T01:00Z","c":"r"},
{"s":"2021-02-27T01:00Z","e":"2021-02-28T15:00Z","c":"g"},
{"s":"2021-02-28T15:00Z","e":"2021-03-02T01:00Z","c":"r"},
{"s":"2021-03-02T01:00Z","e":"2021-03-04T08:00Z","c":"g"},
{"s":"2021-03-04T08:00Z","e":"2021-03-09T10:00Z","c":"r"},
{"s":"2021-03-09T10:00Z","e":"2021-03-09T22:00Z","c":"g"},
{"s":"2021-03-09T22:00Z","e":"2021-03-11T20:00Z","c":"r"},
{"s":"2021-03-11T20:00Z","e":"2021-03-13T06:00Z","c":"g"},
{"s":"2021-03-13T06:00Z","e":"2021-03-13T16:00Z","c":"r"}
],
"om":[
{"t":"2021-01-23T08:00Z","v":40,"k":"rd"},{"t":"2021-01-24T16:00Z","v":47,"k":"rd"},{"t":"2021-01-25T00:00Z","v":40,"k":"rd"},{"t":"2021-01-29T08:00Z","v":75,"k":"rd"},{"t":"2021-01-31T08:00Z","v":58,"k":"rd"},{"t":"2021-02-02T16:00Z","v":165,"k":"rd"},{"t":"2021-02-03T00:00Z","v":146,"k":"rd"},{"t":"2021-02-05T16:00Z","v":178,"k":"rd"},{"t":"2021-02-06T00:00Z","v":158,"k":"rd"},{"t":"2021-02-07T08:00Z","v":85,"k":"rd"},{"t":"2021-02-09T08:00Z","v":58,"k":"rd"},{"t":"2021-02-11T00:00Z","v":172,"k":"rd"},{"t":"2021-02-11T08:00Z","v":152,"k":"rd"},{"t":"2021-02-14T00:00Z","v":-80,"k":"rd"},{"t":"2021-02-14T08:00Z","v":-86,"k":"rd"},{"t":"2021-02-16T16:00Z","v":52,"k":"rd"},{"t":"2021-02-21T00:00Z","v":183,"k":"rd"},{"t":"2021-02-21T08:00Z","v":160,"k":"rd"},{"t":"2021-02-23T08:00Z","v":-72,"k":"rd"},{"t":"2021-02-23T16:00Z","v":-66,"k":"rd"},{"t":"2021-02-25T08:00Z","v":58,"k":"rd"},{"t":"2021-02-25T16:00Z","v":54,"k":"rd"},{"t":"2021-02-27T16:00Z","v":136,"k":"rd"},{"t":"2021-03-01T16:00Z","v":20,"k":"rd"},{"t":"2021-03-06T08:00Z","v":10,"k":"rd"},{"t":"2021-03-08T08:00Z","v":20,"k":"rd"},{"t":"2021-03-10T00:00Z","v":122,"k":"rd"},{"t":"2021-03-12T08:00Z","v":-80,"k":"rd"},
{"t":"2021-01-20T16:00Z","v":-105,"k":"gd"},{"t":"2021-01-22T08:00Z","v":-108,"k":"gd"},{"t":"2021-01-26T16:00Z","v":-95,"k":"gd"},{"t":"2021-01-30T16:00Z","v":-15,"k":"gd"},{"t":"2021-02-01T08:00Z","v":-49,"k":"gd"},{"t":"2021-02-04T00:00Z","v":15,"k":"gd"},{"t":"2021-02-04T08:00Z","v":10,"k":"gd"},{"t":"2021-02-08T16:00Z","v":28,"k":"gd"},{"t":"2021-02-10T00:00Z","v":45,"k":"gd"},{"t":"2021-02-17T16:00Z","v":-30,"k":"gd"},{"t":"2021-02-19T16:00Z","v":-10,"k":"gd"},{"t":"2021-02-23T00:00Z","v":-80,"k":"gd"},{"t":"2021-03-01T00:00Z","v":-22,"k":"gd"},{"t":"2021-03-03T00:00Z","v":-85,"k":"gd"},{"t":"2021-03-07T08:00Z","v":-45,"k":"gd"},{"t":"2021-03-09T00:00Z","v":-45,"k":"gd"},
{"t":"2021-02-18T16:00Z","v":156,"k":"rD"},{"t":"2021-02-27T16:00Z","v":156,"k":"rD"},{"t":"2021-03-10T00:00Z","v":160,"k":"ra"},
{"t":"2021-01-20T16:00Z","v":-122,"k":"gD"},{"t":"2021-01-22T08:00Z","v":-122,"k":"gD"},{"t":"2021-01-26T16:00Z","v":-122,"k":"gD"},{"t":"2021-02-15T08:00Z","v":-122,"k":"gD"},{"t":"2021-03-05T00:00Z","v":-122,"k":"gD"},{"t":"2021-03-12T00:00Z","v":-122,"k":"gD"},{"t":"2021-03-13T08:00Z","v":-122,"k":"gD"}
]
},
"vconcat":[
{
"width":887,"height":420,
"layer":[
{"data":{"name":"k"},"mark":{"type":"bar","size":3,"opacity":0.45},
"encoding":{
"x":{"field":"t","type":"temporal","scale":{"type":"utc","domain":[{"year":2021,"month":1,"date":19,"hours":1,"utc":true},{"year":2021,"month":3,"date":22,"hours":3,"utc":true}],"nice":false},"axis":null,"title":null},
"y":{"field":"v","type":"quantitative","scale":{"domain":[0,420],"nice":false,"zero":false},"axis":null,"title":null},
"y2":{"datum":0},
"color":{"condition":{"test":"datum.c >= datum.o","value":"#22a68f"},"value":"#e05050"}}},
{"layer":[
{"data":{"values":[{}]},"mark":{"type":"rule","color":"#3c4745","strokeWidth":1},"encoding":{"y":{"datum":1.118954,"type":"quantitative","scale":{"domain":[0.0244,1.652],"nice":false,"zero":false},"title":null,"axis":{"orient":"right","values":[0.1,0.2,0.3,0.4,0.5,0.6,0.7,0.8,0.9,1.0,1.2,1.3,1.4,1.5,1.6],"format":".6f","labelOverlap":false,"tickCount":16}}}},
{"data":{"values":[{}]},"mark":{"type":"rule","color":"#35322c","strokeWidth":1},"encoding":{"y":{"datum":1.035,"type":"quantitative","scale":{"domain":[0.0244,1.652],"nice":false,"zero":false},"title":null}}},
{"data":{"name":"k"},"mark":{"type":"rule","strokeWidth":0.8},
"encoding":{
"x":{"field":"t","type":"temporal","scale":{"type":"utc","domain":[{"year":2021,"month":1,"date":19,"hours":1,"utc":true},{"year":2021,"month":3,"date":22,"hours":3,"utc":true}],"nice":false},"axis":null,"title":null},
"y":{"field":"l","type":"quantitative","scale":{"domain":[0.0244,1.652],"nice":false,"zero":false},"title":null},
"y2":{"field":"h"},
"color":{"condition":{"test":"datum.c >= datum.o","value":"#22a68f"},"value":"#e05050"}}},
{"data":{"name":"k"},"mark":{"type":"bar","size":3},
"encoding":{
"x":{"field":"t","type":"temporal","scale":{"type":"utc","domain":[{"year":2021,"month":1,"date":19,"hours":1,"utc":true},{"year":2021,"month":3,"date":22,"hours":3,"utc":true}],"nice":false},"axis":null,"title":null},
"y":{"field":"o","type":"quantitative","scale":{"domain":[0.0244,1.652],"nice":false,"zero":false},"title":null},
"y2":{"field":"c"},
"color":{"condition":{"test":"datum.c >= datum.o","value":"#22a68f"},"value":"#e05050"}}},
{"data":{"name":"ma"},"transform":[{"fold":["a","b","c","d"],"as":["m","val"]}],"mark":{"type":"line","strokeWidth":1,"interpolate":"monotone","opacity":0.9},
"encoding":{
"x":{"field":"t","type":"temporal","scale":{"type":"utc","domain":[{"year":2021,"month":1,"date":19,"hours":1,"utc":true},{"year":2021,"month":3,"date":22,"hours":3,"utc":true}],"nice":false},"axis":null,"title":null},
"y":{"field":"val","type":"quantitative","scale":{"domain":[0.0244,1.652],"nice":false,"zero":false},"title":null},
"color":{"field":"m","type":"nominal","scale":{"domain":["a","b","c","d"],"range":["#c0504a","#a08a58","#3470ae","#74477e"]},"legend":null}}},
{"data":{"name":"tl"},"transform":[{"filter":"datum.g == 'u'"}],"mark":{"type":"line","color":"#1f6f68","strokeWidth":1.4},
"encoding":{
"x":{"field":"t","type":"temporal","scale":{"type":"utc","domain":[{"year":2021,"month":1,"date":19,"hours":1,"utc":true},{"year":2021,"month":3,"date":22,"hours":3,"utc":true}],"nice":false},"axis":null,"title":null},
"y":{"field":"p","type":"quantitative","scale":{"domain":[0.0244,1.652],"nice":false,"zero":false},"title":null}}},
{"data":{"name":"tl"},"transform":[{"filter":"datum.g == 'l'"}],"mark":{"type":"line","color":"#4fb3cf","strokeWidth":2.2},
"encoding":{
"x":{"field":"t","type":"temporal","scale":{"type":"utc","domain":[{"year":2021,"month":1,"date":19,"hours":1,"utc":true},{"year":2021,"month":3,"date":22,"hours":3,"utc":true}],"nice":false},"axis":null,"title":null},
"y":{"field":"p","type":"quantitative","scale":{"domain":[0.0244,1.652],"nice":false,"zero":false},"title":null}}},
{"data":{"name":"gc"},"mark":{"type":"line","color":"#4ee044","strokeWidth":1.7,"interpolate":"monotone"},
"encoding":{
"x":{"field":"t","type":"temporal","scale":{"type":"utc","domain":[{"year":2021,"month":1,"date":19,"hours":1,"utc":true},{"year":2021,"month":3,"date":22,"hours":3,"utc":true}],"nice":false},"axis":null,"title":null},
"y":{"field":"p","type":"quantitative","scale":{"domain":[0.0244,1.652],"nice":false,"zero":false},"title":null}}},
{"data":{"name":"ar"},"mark":{"type":"line","color":"#4ee044","strokeWidth":1.5},
"encoding":{
"x":{"field":"t","type":"temporal","scale":{"type":"utc","domain":[{"year":2021,"month":1,"date":19,"hours":1,"utc":true},{"year":2021,"month":3,"date":22,"hours":3,"utc":true}],"nice":false},"axis":null,"title":null},
"y":{"field":"p","type":"quantitative","scale":{"domain":[0.0244,1.652],"nice":false,"zero":false},"title":null},
"order":{"field":"i"}}},
{"data":{"name":"pm"},"transform":[{"filter":"datum.k == 'yx'"}],"mark":{"type":"point","shape":"M-1,-1L1,1M-1,1L1,-1","filled":false,"stroke":"#e3d44c","strokeWidth":1.4,"size":60,"opacity":1},
"encoding":{
"x":{"field":"t","type":"temporal","scale":{"type":"utc","domain":[{"year":2021,"month":1,"date":19,"hours":1,"utc":true},{"year":2021,"month":3,"date":22,"hours":3,"utc":true}],"nice":false},"axis":null,"title":null},
"y":{"field":"p","type":"quantitative","scale":{"domain":[0.0244,1.652],"nice":false,"zero":false},"title":null}}},
{"data":{"name":"pm"},"transform":[{"filter":"datum.k == 'rx'"}],"mark":{"type":"point","shape":"M-1,-1L1,1M-1,1L1,-1","filled":false,"stroke":"#e05050","strokeWidth":1.1,"size":22,"opacity":1},
"encoding":{
"x":{"field":"t","type":"temporal","scale":{"type":"utc","domain":[{"year":2021,"month":1,"date":19,"hours":1,"utc":true},{"year":2021,"month":3,"date":22,"hours":3,"utc":true}],"nice":false},"axis":null,"title":null},
"y":{"field":"p","type":"quantitative","scale":{"domain":[0.0244,1.652],"nice":false,"zero":false},"title":null}}},
{"data":{"name":"pm"},"transform":[{"filter":"datum.k == 'gm' || datum.k == 'rm'"}],"mark":{"type":"point","shape":"diamond","filled":true,"size":22,"opacity":1},
"encoding":{
"x":{"field":"t","type":"temporal","scale":{"type":"utc","domain":[{"year":2021,"month":1,"date":19,"hours":1,"utc":true},{"year":2021,"month":3,"date":22,"hours":3,"utc":true}],"nice":false},"axis":null,"title":null},
"y":{"field":"p","type":"quantitative","scale":{"domain":[0.0244,1.652],"nice":false,"zero":false},"title":null},
"color":{"condition":{"test":"datum.k == 'gm'","value":"#22b07a"},"value":"#e05050"}}},
{"data":{"name":"pm"},"transform":[{"filter":"datum.k == 'go' || datum.k == 'ro'"}],"mark":{"type":"point","shape":"circle","filled":true,"size":30,"opacity":1},
"encoding":{
"x":{"field":"t","type":"temporal","scale":{"type":"utc","domain":[{"year":2021,"month":1,"date":19,"hours":1,"utc":true},{"year":2021,"month":3,"date":22,"hours":3,"utc":true}],"nice":false},"axis":null,"title":null},
"y":{"field":"p","type":"quantitative","scale":{"domain":[0.0244,1.652],"nice":false,"zero":false},"title":null},
"color":{"condition":{"test":"datum.k == 'go'","value":"#26b57e"},"value":"#e8625a"}}},
{"data":{"values":[{}]},"mark":{"type":"rect","fill":"#26a69a"},
"encoding":{
"x":{"datum":{"year":2021,"month":3,"date":22,"hours":5,"utc":true},"type":"temporal","scale":{"type":"utc","domain":[{"year":2021,"month":1,"date":19,"hours":1,"utc":true},{"year":2021,"month":3,"date":22,"hours":3,"utc":true}],"nice":false},"axis":null,"title":null},
"x2":{"datum":{"year":2021,"month":3,"date":24,"hours":12,"utc":true}},
"y":{"datum":1.1446,"type":"quantitative","scale":{"domain":[0.0244,1.652],"nice":false,"zero":false},"title":null},
"y2":{"datum":1.0748}}},
{"data":{"values":[{"lab":"1.118954","p":1.1194},{"lab":"03:38:48","p":1.0905}]},"mark":{"type":"text","color":"#ffffff","fontSize":6.5,"font":"Liberation Sans","align":"center","baseline":"middle"},
"encoding":{
"x":{"datum":{"year":2021,"month":3,"date":23,"hours":8,"utc":true},"type":"temporal","scale":{"type":"utc","domain":[{"year":2021,"month":1,"date":19,"hours":1,"utc":true},{"year":2021,"month":3,"date":22,"hours":3,"utc":true}],"nice":false},"axis":null,"title":null},
"y":{"field":"p","type":"quantitative","scale":{"domain":[0.0244,1.652],"nice":false,"zero":false},"title":null},
"text":{"field":"lab"}}},
{"data":{"values":[{}]},"mark":{"type":"rect","fill":"#141312","stroke":"#5a5a5a","strokeWidth":0.8},
"encoding":{
"x":{"datum":{"year":2021,"month":3,"date":23,"hours":3,"utc":true},"type":"temporal","scale":{"type":"utc","domain":[{"year":2021,"month":1,"date":19,"hours":1,"utc":true},{"year":2021,"month":3,"date":22,"hours":3,"utc":true}],"nice":false},"axis":null,"title":null},
"x2":{"datum":{"year":2021,"month":3,"date":24,"hours":6,"utc":true}},
"y":{"datum":1.648,"type":"quantitative","scale":{"domain":[0.0244,1.652],"nice":false,"zero":false},"title":null},
"y2":{"datum":1.608}}},
{"data":{"values":[{"lab":"USD","p":1.628}]},"mark":{"type":"text","color":"#b4b4b4","fontSize":6.5,"font":"Liberation Sans","align":"center","baseline":"middle"},
"encoding":{
"x":{"datum":{"year":2021,"month":3,"date":23,"hours":16,"utc":true},"type":"temporal","scale":{"type":"utc","domain":[{"year":2021,"month":1,"date":19,"hours":1,"utc":true},{"year":2021,"month":3,"date":22,"hours":3,"utc":true}],"nice":false},"axis":null,"title":null},
"y":{"field":"p","type":"quantitative","scale":{"domain":[0.0244,1.652],"nice":false,"zero":false},"title":null},
"text":{"field":"lab"}}}
]}
],
"resolve":{"scale":{"y":"independent"}}
},
{
"width":887,"height":114,
"view":{"stroke":null,"fill":{"gradient":"linear","x1":0,"y1":0,"x2":0,"y2":1,"stops":[{"offset":0,"color":"#180d0c"},{"offset":0.6,"color":"#110c0a"},{"offset":1,"color":"#08110a"}]}},
"layer":[
{"data":{"values":[{}]},"mark":{"type":"rule","color":"#5a4a3a","strokeWidth":1,"strokeDash":[2,2]},"encoding":{"y":{"datum":228,"type":"quantitative","scale":{"domain":[-176,229.5],"nice":false,"zero":false},"title":null,"axis":{"orient":"right","values":[-150,-100,-50,0,50,100,150,200],"labelExpr":"(datum.value < 0 ? '-' : '') + format(abs(datum.value), '.6f')","labelOverlap":false,"tickCount":8}}}},
{"data":{"name":"bs"},"mark":{"type":"rule","strokeWidth":3.5},
"encoding":{
"x":{"field":"s","type":"temporal","scale":{"type":"utc","domain":[{"year":2021,"month":1,"date":19,"hours":1,"utc":true},{"year":2021,"month":3,"date":22,"hours":3,"utc":true}],"nice":false},"title":null,
"axis":{"values":[{"year":2021,"month":1,"date":19,"utc":true},{"year":2021,"month":1,"date":22,"utc":true},{"year":2021,"month":1,"date":25,"utc":true},{"year":2021,"month":1,"date":28,"utc":true},{"year":2021,"month":2,"date":1,"utc":true},{"year":2021,"month":2,"date":4,"utc":true},{"year":2021,"month":2,"date":8,"utc":true},{"year":2021,"month":2,"date":11,"utc":true},{"year":2021,"month":2,"date":15,"utc":true},{"year":2021,"month":2,"date":18,"utc":true},{"year":2021,"month":2,"date":22,"utc":true},{"year":2021,"month":2,"date":25,"utc":true},{"year":2021,"month":3,"date":1,"utc":true},{"year":2021,"month":3,"date":4,"utc":true},{"year":2021,"month":3,"date":8,"utc":true},{"year":2021,"month":3,"date":11,"utc":true},{"year":2021,"month":3,"date":15,"utc":true},{"year":2021,"month":3,"date":18,"utc":true},{"year":2021,"month":3,"date":22,"utc":true}],
"labelExpr":"utcdate(datum.value) == 1 ? utcFormat(datum.value, '%b') : utcFormat(datum.value, '%-d')","labelOverlap":false,"labelBound":false,"labelFlush":false,"labelPadding":1}},
"x2":{"field":"e"},
"y":{"datum":-118,"type":"quantitative","scale":{"domain":[-176,229.5],"nice":false,"zero":false},"title":null},
"color":{"condition":{"test":"datum.c == 'g'","value":"#1f9a48"},"value":"#9c4438"}}},
{"data":{"name":"k"},"mark":{"type":"area","interpolate":"monotone","fill":"#e6eed6"},
"encoding":{
"x":{"field":"t","type":"temporal","scale":{"type":"utc","domain":[{"year":2021,"month":1,"date":19,"hours":1,"utc":true},{"year":2021,"month":3,"date":22,"hours":3,"utc":true}],"nice":false},"title":null},
"y":{"field":"w1","type":"quantitative","scale":{"domain":[-176,229.5],"nice":false,"zero":false},"title":null},
"y2":{"datum":0}}},
{"data":{"name":"k"},"mark":{"type":"area","interpolate":"monotone","fill":"#2c5d83","opacity":0.95},
"encoding":{
"x":{"field":"t","type":"temporal","scale":{"type":"utc","domain":[{"year":2021,"month":1,"date":19,"hours":1,"utc":true},{"year":2021,"month":3,"date":22,"hours":3,"utc":true}],"nice":false},"title":null},
"y":{"field":"w2","type":"quantitative","scale":{"domain":[-176,229.5],"nice":false,"zero":false},"title":null},
"y2":{"datum":0}}},
{"data":{"name":"k"},"mark":{"type":"area","interpolate":"monotone","fill":"#c8c03c","opacity":0.6},
"encoding":{
"x":{"field":"t","type":"temporal","scale":{"type":"utc","domain":[{"year":2021,"month":1,"date":19,"hours":1,"utc":true},{"year":2021,"month":3,"date":22,"hours":3,"utc":true}],"nice":false},"title":null},
"y":{"field":"mf","type":"quantitative","scale":{"domain":[-176,229.5],"nice":false,"zero":false},"title":null},
"y2":{"datum":0}}},
{"data":{"values":[{}]},"mark":{"type":"rule","color":"#a9c49b","strokeWidth":2,"opacity":0.75},"encoding":{"y":{"datum":0,"type":"quantitative","scale":{"domain":[-176,229.5],"nice":false,"zero":false},"title":null}}},
{"data":{"name":"s"},"transform":[{"fold":["g","o","b","p","q"],"as":["ln","val"]},{"filter":"isValid(datum.val)"}],"mark":{"type":"line","strokeWidth":1.2,"interpolate":"monotone"},
"encoding":{
"x":{"field":"t","type":"temporal","scale":{"type":"utc","domain":[{"year":2021,"month":1,"date":19,"hours":1,"utc":true},{"year":2021,"month":3,"date":22,"hours":3,"utc":true}],"nice":false},"title":null},
"y":{"field":"val","type":"quantitative","scale":{"domain":[-176,229.5],"nice":false,"zero":false},"title":null},
"color":{"field":"ln","type":"nominal","scale":{"domain":["g","o","b","p","q"],"range":["#38b05a","#c2614a","#3a8be0","#8a4fc2","#56b4cc"]},"legend":null}}},
{"data":{"name":"om"},"transform":[{"filter":"datum.k == 'rd' || datum.k == 'gd'"}],"mark":{"type":"point","shape":"circle","filled":true,"size":20,"opacity":1},
"encoding":{
"x":{"field":"t","type":"temporal","scale":{"type":"utc","domain":[{"year":2021,"month":1,"date":19,"hours":1,"utc":true},{"year":2021,"month":3,"date":22,"hours":3,"utc":true}],"nice":false},"title":null},
"y":{"field":"v","type":"quantitative","scale":{"domain":[-176,229.5],"nice":false,"zero":false},"title":null},
"color":{"condition":{"test":"datum.k == 'gd'","value":"#2dbb73"},"value":"#e06666"}}},
{"data":{"name":"om"},"transform":[{"filter":"datum.k == 'rD' || datum.k == 'gD'"}],"mark":{"type":"point","shape":"diamond","filled":true,"size":50,"opacity":1},
"encoding":{
"x":{"field":"t","type":"temporal","scale":{"type":"utc","domain":[{"year":2021,"month":1,"date":19,"hours":1,"utc":true},{"year":2021,"month":3,"date":22,"hours":3,"utc":true}],"nice":false},"title":null},
"y":{"field":"v","type":"quantitative","scale":{"domain":[-176,229.5],"nice":false,"zero":false},"title":null},
"color":{"condition":{"test":"datum.k == 'gD'","value":"#1f9c3c"},"value":"#b3191b"}}},
{"data":{"name":"om"},"transform":[{"filter":"datum.k == 'ra'"}],"mark":{"type":"point","shape":"triangle-down","filled":true,"size":60,"color":"#b3191b","opacity":1},
"encoding":{
"x":{"field":"t","type":"temporal","scale":{"type":"utc","domain":[{"year":2021,"month":1,"date":19,"hours":1,"utc":true},{"year":2021,"month":3,"date":22,"hours":3,"utc":true}],"nice":false},"title":null},
"y":{"field":"v","type":"quantitative","scale":{"domain":[-176,229.5],"nice":false,"zero":false},"title":null}}}
],
"resolve":{"scale":{"color":"independent"}}
}
]
}
